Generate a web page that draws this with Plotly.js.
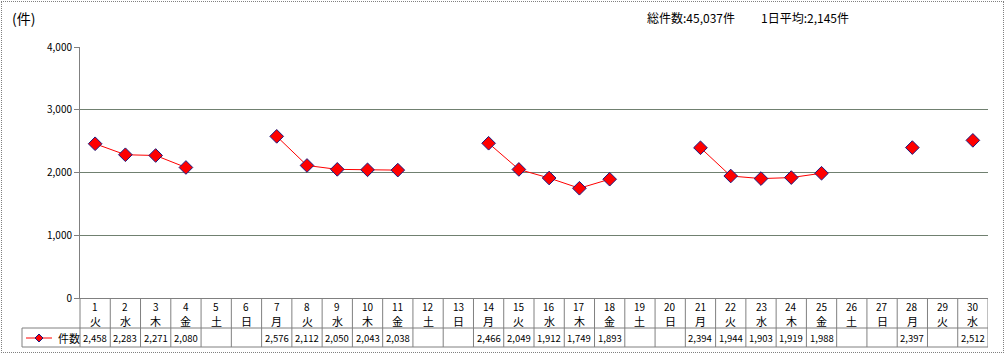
<!DOCTYPE html>
<html><head><meta charset="utf-8">
<script src="https://cdn.plot.ly/plotly-3.0.1.min.js"></script>
<style>
body{margin:0;padding:0;background:#fff;}
#chart{width:1005px;height:355px;position:relative;}
#frame{position:absolute;left:1px;top:1px;width:1001px;height:350px;border:1px dotted #808080;pointer-events:none;}
</style></head>
<body>
<div id="chart"></div>
<div id="frame"></div>
<script>
const days = [1,2,3,4,5,6,7,8,9,10,11,12,13,14,15,16,17,18,19,20,21,22,23,24,25,26,27,28,29,30];
const weekdays = ["火","水","木","金","土","日","月","火","水","木","金","土","日","月","火","水","木","金","土","日","月","火","水","木","金","土","日","月","火","水"];
const counts = [2458,2283,2271,2080,null,null,2576,2112,2050,2043,2038,null,null,2466,2049,1912,1749,1893,null,null,2394,1944,1903,1919,1988,null,null,2397,null,2512];
const seriesName = "件数";
const unitLabel = "(件)";
const totalText = "総件数:45,037件";
const avgText = "1日平均:2,145件";

const FONT = '"Noto Sans CJK JP", "Noto Sans", sans-serif';
const L=80, R=988, T=47, B=298, W=1005, H=355;
const px = p => (p-L)/(R-L);
const py = p => (B-p)/(B-T);

const annotations = [];
const shapes = [];
const lineCol = '#808080';

days.forEach((d,i)=>{
  annotations.push({x:d, xref:'x', y:py(306), yref:'paper', text:String(d), showarrow:false, font:{family:FONT,size:10,color:'#000'}, xanchor:'center', yanchor:'middle'});
  annotations.push({x:d, xref:'x', y:py(321), yref:'paper', text:weekdays[i], showarrow:false, font:{family:FONT,size:11,color:'#000'}, xanchor:'center', yanchor:'middle'});
  if (counts[i] !== null) {
    annotations.push({x:d, xref:'x', y:py(338), yref:'paper', text:counts[i].toLocaleString('en-US'), showarrow:false, font:{family:FONT,size:9.5,color:'#000'}, xanchor:'center', yanchor:'middle'});
  }
  shapes.push({type:'line', xref:'x', yref:'paper', x0:d+0.5, x1:d+0.5, y0:py(298), y1:py(347), line:{color:lineCol,width:1}});
});
shapes.push({type:'line', xref:'paper', yref:'paper', x0:0, x1:0, y0:py(298), y1:py(347), line:{color:lineCol,width:1}});
shapes.push({type:'line', xref:'paper', yref:'paper', x0:px(22), x1:1, y0:py(328), y1:py(328), line:{color:lineCol,width:1}});
shapes.push({type:'line', xref:'paper', yref:'paper', x0:px(22), x1:1, y0:py(347), y1:py(347), line:{color:lineCol,width:1}});
shapes.push({type:'line', xref:'paper', yref:'paper', x0:px(22), x1:px(22), y0:py(328), y1:py(347), line:{color:lineCol,width:1}});
// legend key inside table: line + small diamond
shapes.push({type:'line', xref:'paper', yref:'paper', x0:px(26), x1:px(52), y0:py(338), y1:py(338), line:{color:'#ff0000',width:1}});
const cx=39, cy=338, hs=4;
shapes.push({type:'path', xref:'paper', yref:'paper',
  path:`M ${px(cx)} ${py(cy-hs)} L ${px(cx+hs)} ${py(cy)} L ${px(cx)} ${py(cy+hs)} L ${px(cx-hs)} ${py(cy)} Z`,
  fillcolor:'#ff0000', line:{color:'#1a1a80',width:1}});
annotations.push({x:px(56), xref:'paper', y:py(338), yref:'paper', text:seriesName, showarrow:false, xanchor:'left', yanchor:'middle', font:{family:FONT,size:11,color:'#000'}});

annotations.push({x:px(10), xref:'paper', y:py(18), yref:'paper', text:unitLabel, showarrow:false, xanchor:'left', yanchor:'middle', font:{family:FONT,size:14,color:'#000'}});
annotations.push({x:px(645), xref:'paper', y:py(17), yref:'paper', text:totalText, showarrow:false, xanchor:'left', yanchor:'middle', font:{family:FONT,size:12,color:'#000'}});
annotations.push({x:px(759), xref:'paper', y:py(17), yref:'paper', text:avgText, showarrow:false, xanchor:'left', yanchor:'middle', font:{family:FONT,size:12,color:'#000'}});

const traces = [
  {x:days, y:counts, type:'scatter', mode:'lines+markers', connectgaps:false, name:seriesName,
   line:{color:'#ff0000',width:1},
   marker:{symbol:'diamond', size:10.5, color:'#ff0000', line:{color:'#1a1a80',width:1}},
   cliponaxis:false, hoverinfo:'skip'}
];

const layout = {
  width:W, height:H,
  margin:{l:L, r:W-R, t:T, b:H-B, pad:0},
  paper_bgcolor:'#fff', plot_bgcolor:'#fff',
  showlegend:false,
  font:{family:FONT, size:10, color:'#000'},
  xaxis:{range:[0.5,30.5], showticklabels:false, ticks:'', showgrid:false, zeroline:false, showline:true, linecolor:lineCol, linewidth:1, fixedrange:true},
  yaxis:{range:[0,4000], dtick:1000, tickformat:',', showgrid:true, gridcolor:'#708070', gridwidth:1, zeroline:false,
         showline:true, linecolor:lineCol, linewidth:1, ticks:'outside', ticklen:5, tickcolor:lineCol,
         tickfont:{family:FONT,size:10,color:'#000'}, fixedrange:true},
  shapes:shapes,
  annotations:annotations
};

Plotly.newPlot('chart', traces, layout, {staticPlot:true, displayModeBar:false});
</script>
</body></html>
